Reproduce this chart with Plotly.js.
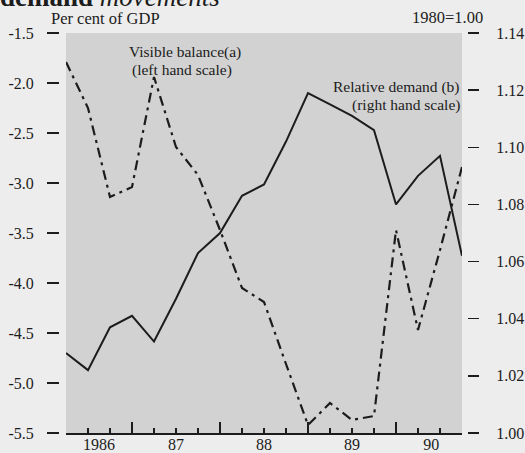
<!DOCTYPE html>
<html>
<head>
<meta charset="utf-8">
<script src="https://cdn.plot.ly/plotly-3.0.1.min.js"></script>
<style>html,body{margin:0;padding:0;background:#ededed;}#chart{width:525px;height:453px;}</style>
</head>
<body>
<div id="chart"></div>
<script>
// Quarterly observations, as decimal-year positions
var quarters = [1986.25, 1986.5, 1986.75, 1987.0, 1987.25, 1987.5, 1987.75, 1988.0, 1988.25, 1988.5,
                1988.75, 1989.0, 1989.25, 1989.5, 1989.75, 1990.0, 1990.25, 1990.5, 1990.75];
// Visible balance (a), per cent of GDP, left hand scale
var visibleBalance = [-1.79, -2.25, -3.14, -3.04, -1.94, -2.64, -2.92, -3.47, -4.05, -4.19,
                      -4.81, -5.42, -5.20, -5.37, -5.33, -3.47, -4.47, -3.67, -2.84];
// Relative demand (b), 1980=1.00, right hand scale
var relativeDemand = [1.028, 1.022, 1.037, 1.041, 1.032, 1.047, 1.063, 1.070, 1.083, 1.087,
                      1.102, 1.119, 1.115, 1.111, 1.106, 1.080, 1.090, 1.097, 1.062];
// Axis labels
var yearLabels = ['1986', '87', '88', '89', '90'];
var yearLabelPos = [1986.625, 1987.5, 1988.5, 1989.5, 1990.4];
var yearBoundaries = [1987, 1988, 1989, 1990];
var leftTickVals = [-5.5, -5.0, -4.5, -4.0, -3.5, -3.0, -2.5, -2.0, -1.5];
var leftTickText = ['-5.5', '-5.0', '-4.5', '-4.0', '-3.5', '-3.0', '-2.5', '-2.0', '-1.5'];
var rightTickVals = [1.00, 1.02, 1.04, 1.06, 1.08, 1.10, 1.12, 1.14];
var rightTickText = ['1.00', '1.02', '1.04', '1.06', '1.08', '1.10', '1.12', '1.14'];

var FONT = 'Liberation Serif, Times New Roman, serif';
var INK = '#1c1c1c';

var traces = [
  {x: quarters, y: relativeDemand, yaxis: 'y2', mode: 'lines', name: 'Relative demand (b)',
   line: {color: INK, width: 2}},
  {x: quarters, y: visibleBalance, yaxis: 'y', mode: 'lines', name: 'Visible balance(a)',
   line: {color: INK, width: 2.2, dash: '10px,5px,3px,5px'}},
  {x: yearLabelPos, y: leftTickVals.slice(0, yearLabelPos.length), xaxis: 'x2', yaxis: 'y',
   mode: 'markers', marker: {opacity: 0}, hoverinfo: 'skip', showlegend: false}
];

var xr = [quarters[0], quarters[quarters.length - 1]];
var xdom = [7 / 408, 403 / 408];

var layout = {
  width: 525, height: 453,
  margin: {l: 59, r: 58, t: 33, b: 20},
  paper_bgcolor: '#ededed',
  plot_bgcolor: '#d2d2d2',
  showlegend: false,
  font: {family: FONT, color: INK, size: 16},
  xaxis: {
    domain: xdom, range: xr, tickmode: 'array', tickvals: yearBoundaries, showticklabels: false,
    ticks: 'inside', ticklen: 11, tickwidth: 1.5, tickcolor: INK,
    minor: {dtick: 0.25, tick0: 1986, ticks: 'inside', ticklen: 5, tickwidth: 1.5, tickcolor: INK, showgrid: false},
    showline: true, linecolor: INK, linewidth: 1.5, showgrid: false, zeroline: false, fixedrange: true
  },
  xaxis2: {
    domain: xdom, range: xr, overlaying: 'x', anchor: 'y', side: 'bottom',
    tickmode: 'array', tickvals: yearLabelPos, ticktext: yearLabels, ticks: '',
    showline: false, showgrid: false, zeroline: false, ticklabelstandoff: 0,
    tickfont: {family: FONT, size: 16, color: INK}
  },
  yaxis: {
    range: [-5.5, -1.5], tickmode: 'array', tickvals: leftTickVals, ticktext: leftTickText,
    anchor: 'free', position: 0, side: 'left',
    ticks: 'outside', ticklen: 12, tickwidth: 1.5, tickcolor: INK, ticklabelstandoff: 10,
    showline: false, showgrid: false, zeroline: false,
    tickfont: {family: FONT, size: 16, color: INK}
  },
  yaxis2: {
    range: [1.00, 1.14], tickmode: 'array', tickvals: rightTickVals, ticktext: rightTickText,
    overlaying: 'y', anchor: 'free', position: 1, side: 'right',
    ticks: 'outside', ticklen: 11, tickwidth: 1.5, tickcolor: INK, ticklabelstandoff: 14,
    showline: false, showgrid: false, zeroline: false,
    tickfont: {family: FONT, size: 16, color: INK}
  },
  annotations: [
    {xref: 'paper', yref: 'paper', x: 0, y: 1, xshift: -61, yshift: 19, xanchor: 'left', yanchor: 'bottom',
     showarrow: false, text: '<b>demand</b> <i>movements</i>', font: {family: FONT, size: 27, color: INK}},
    {xref: 'paper', yref: 'paper', x: 0, y: 1, xshift: -10, yshift: 15, xanchor: 'left', yanchor: 'middle',
     showarrow: false, text: 'Per cent of GDP', font: {family: FONT, size: 16.5, color: INK}},
    {xref: 'paper', yref: 'paper', x: 1, y: 1, xshift: 18, yshift: 16, xanchor: 'right', yanchor: 'middle',
     showarrow: false, text: '1980=1.00', font: {family: FONT, size: 16.5, color: INK}},
    {xref: 'x', yref: 'y', x: 1987.6, y: -1.69, xanchor: 'center', yanchor: 'middle',
     showarrow: false, text: 'Visible balance(a)', font: {family: FONT, size: 15.5, color: INK}},
    {xref: 'x', yref: 'y', x: 1987.57, y: -1.87, xanchor: 'center', yanchor: 'middle',
     showarrow: false, text: '(left hand scale)', font: {family: FONT, size: 15.5, color: INK}},
    {xref: 'x', yref: 'y', x: 1990.75, y: -2.04, xanchor: 'right', yanchor: 'middle',
     showarrow: false, text: 'Relative demand (b)', font: {family: FONT, size: 15.5, color: INK}},
    {xref: 'x', yref: 'y', x: 1990.75, y: -2.22, xanchor: 'right', yanchor: 'middle',
     showarrow: false, text: '(right hand scale)', font: {family: FONT, size: 15.5, color: INK}}
  ]
};

Plotly.newPlot('chart', traces, layout, {staticPlot: true, displayModeBar: false});
</script>
</body>
</html>
